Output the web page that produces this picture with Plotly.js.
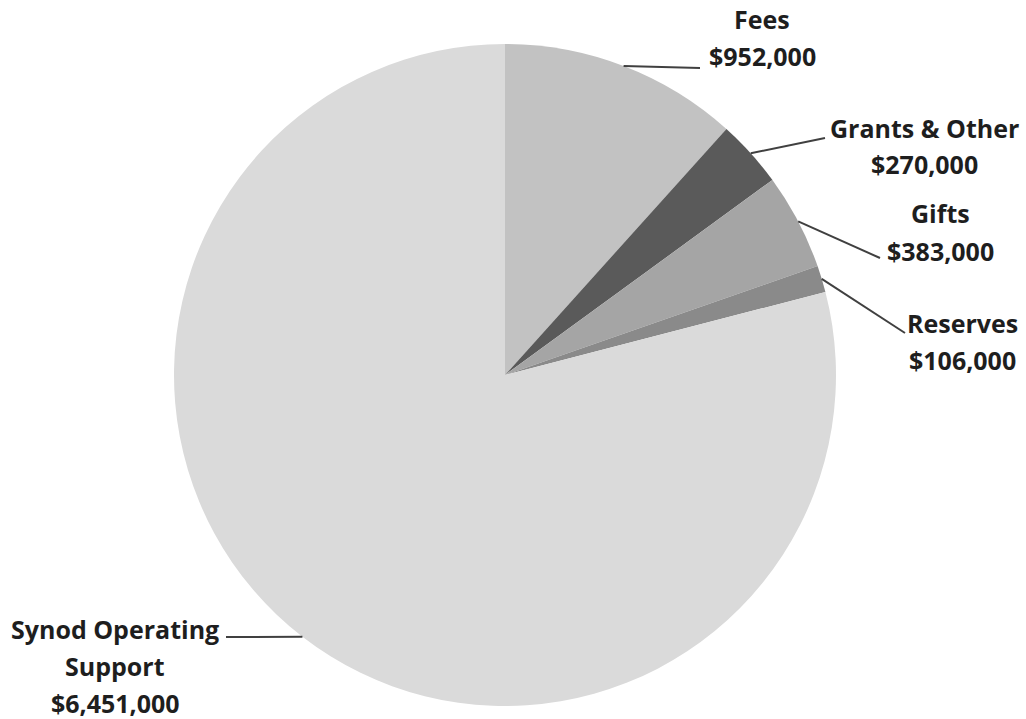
<!DOCTYPE html>
<html>
<head>
<meta charset="utf-8">
<script src="https://cdn.plot.ly/plotly-3.0.1.min.js"></script>
<style>html,body{margin:0;padding:0;background:#fff;}#chart{width:1026px;height:719px;}</style>
</head>
<body>
<div id="chart"></div>
<script>
// ---- data ----
const categories = ["Fees", "Grants & Other", "Gifts", "Reserves", "Synod Operating Support"];
const values = [952000, 270000, 383000, 106000, 6451000];
const labelLines = [["Fees", "$952,000"], ["Grants & Other", "$270,000"], ["Gifts", "$383,000"], ["Reserves", "$106,000"], ["Synod Operating", "Support", "$6,451,000"]];

// ---- styling / layout ----
const colors = ["#c2c2c2", "#5a5a5a", "#a5a5a5", "#8a8a8a", "#dadada"];
const W = 1026, H = 719;
const M = {l: 174, r: 190, t: 44, b: 13};
const PW = W - M.l - M.r, PH = H - M.t - M.b;
const R = Math.min(PW, PH) / 2;
const CX = M.l + PW / 2, CY = M.t + PH / 2;
// label text centre (pixels) and leader-line end (pixels)
const labelCenters = [[762, 37], [924, 146], [940, 232], [962, 341], [115, 666]];
const lineEnds = [[700, 68], [825, 138], [880, 258], [905, 333], [226, 637]];
const lineGap = 37;

const toPX = px => (px - M.l) / PW;
const toPY = py => (M.t + PH - py) / PH;

const total = values.reduce((a, b) => a + b, 0);
const annotations = [];
const shapes = [];
let cum = 0;
values.forEach((v, i) => {
  const mid = (cum + v / 2) / total * 2 * Math.PI;
  cum += v;
  const ex = CX + R * Math.sin(mid), ey = CY - R * Math.cos(mid);
  shapes.push({type: 'line', xref: 'paper', yref: 'paper',
    x0: toPX(ex), y0: toPY(ey), x1: toPX(lineEnds[i][0]), y1: toPY(lineEnds[i][1]),
    line: {color: '#404040', width: 2}});
  const lines = labelLines[i];
  lines.forEach((t, j) => {
    const py = labelCenters[i][1] + (j - (lines.length - 1) / 2) * lineGap;
    annotations.push({xref: 'paper', yref: 'paper', x: toPX(labelCenters[i][0]), y: toPY(py),
      xanchor: 'center', yanchor: 'middle', showarrow: false, text: '<b>' + t + '</b>',
      font: {family: 'Open Sans, sans-serif', size: 25, color: '#1e1e1e'}});
  });
});

const trace = {
  type: 'pie', labels: categories, values: values, sort: false, direction: 'clockwise', rotation: 0,
  marker: {colors: colors, line: {width: 0}}, textinfo: 'none', hoverinfo: 'label+value', showlegend: false
};
const layout = {
  width: W, height: H, margin: M, paper_bgcolor: '#ffffff', plot_bgcolor: '#ffffff',
  showlegend: false, annotations: annotations, shapes: shapes
};
Plotly.newPlot('chart', [trace], layout, {displayModeBar: false, staticPlot: true});
</script>
</body>
</html>
